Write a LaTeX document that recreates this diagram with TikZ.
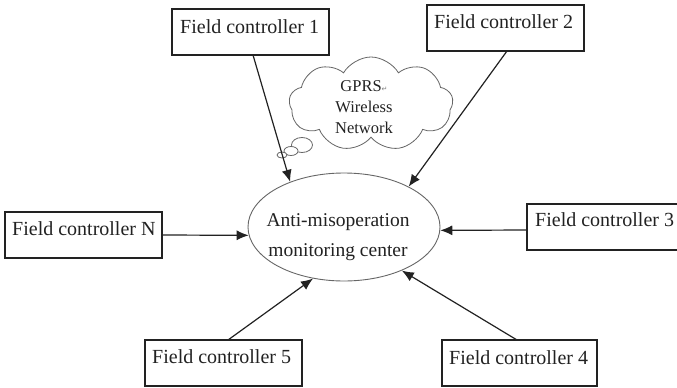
\documentclass[tikz,border=0pt]{standalone}
\usepackage{fontspec}
\setmainfont{Liberation Serif}
\newfontfamily\dejavu{DejaVu Sans}
\usetikzlibrary{arrows.meta,shapes.geometric,shapes.symbols,calc}
\definecolor{ink}{HTML}{222222}
\definecolor{soft}{HTML}{666666}
\begin{document}
\begin{tikzpicture}[x=1pt,y=-1pt,
  box/.style={draw=ink,line width=1.2pt,rectangle,inner sep=0pt,outer sep=0pt,
    minimum width=157pt,minimum height=46pt,anchor=north west},
  lbl/.style={anchor=west,inner sep=0pt,text=ink,font=\fontsize{20}{24}\selectfont},
  conn/.style={draw=ink,line width=1.2pt,-{Latex[length=12pt,width=10pt]}},
  puff/.style={draw=soft,line width=0.8pt,fill=white,ellipse,inner sep=0pt}]
\useasboundingbox (0,0) rectangle (677,388);
\clip (0,0) rectangle (677,388);
\fill[white] (0,0) rectangle (677,388);
% boxes
\node[box] (fc1) at (172,9) {};
\node[box] (fc2) at (427,5) {};
\node[box,minimum width=157pt] (fcn) at (5,212) {};
\node[box,minimum width=170pt] (fc3) at (527,204) {};
\node[box] (fc5) at (145,340) {};
\node[box,minimum width=155pt] (fc4) at (442,340) {};
\node[lbl] (t1) at ($(fc1.north west)+(8,18)$) {Field controller 1};
\node[lbl] (t2) at ($(fc2.north west)+(7,17)$) {Field controller 2};
\node[lbl] (tn) at ($(fcn.north west)+(7,17)$) {Field controller N};
\node[lbl] (t3) at ($(fc3.north west)+(8,16)$) {Field controller 3};
\node[lbl] (t5) at ($(fc5.north west)+(7,17)$) {Field controller 5};
\node[lbl] (t4) at ($(fc4.north west)+(7,18)$) {Field controller 4};
% centre
\node[draw=soft,line width=0.9pt,ellipse,inner sep=0pt,minimum width=192pt,minimum height=108pt] (ctr) at (344,227) {};
\node[align=center,inner sep=0pt,text=ink,font=\fontsize{19.5}{30}\selectfont] (ctrtxt) at (338,237)
  {Anti-misoperation\\monitoring center};
% cloud
\node[cloud,draw=soft,line width=0.8pt,fill=white,cloud puffs=9,cloud puff arc=120,aspect=1.7,
  minimum width=164pt,minimum height=94pt,inner sep=0pt] (net) at (371,104) {};
\node[puff,minimum width=21pt,minimum height=15pt] (b3) at (302,145) {};
\node[puff,minimum width=14pt,minimum height=9pt] (b2) at (291,151) {};
\node[puff,minimum width=10pt,minimum height=6pt] (b1) at (282,155) {};
\node[align=center,inner sep=0pt,text=ink,font=\fontsize{16.5}{21}\selectfont] (nettxt) at (364,107)
  {GPRS{\color{gray}\dejavu\fontsize{7}{8}\selectfont ↵}\\Wireless\\Network};
% connectors
\draw[conn] ($(fc1.south west)+(81,0)$) -- (ctr.140);
\draw[conn] ($(fc2.south west)+(80,0)$) -- (ctr.32);
\draw[conn] ($(fcn.north east)+(0,23)$) -- (ctr.185);
\draw[conn] ($(fc3.north west)+(0,26)$) -- (ctr.-2);
\draw[conn] ($(fc5.north west)+(83,0)$) -- (ctr.-121);
\draw[conn] ($(fc4.north west)+(75,0)$) -- (ctr.-37);
\end{tikzpicture}
\end{document}
